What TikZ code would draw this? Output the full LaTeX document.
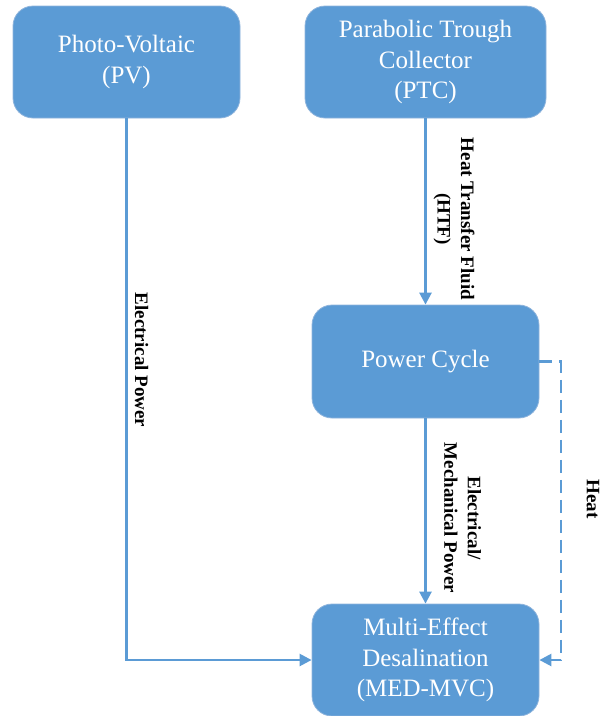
\documentclass[tikz,border=0pt]{standalone}
\usepackage{fontspec}
\setmainfont{Liberation Serif}
\usetikzlibrary{arrows.meta}
\definecolor{boxblue}{HTML}{5B9BD5}
\definecolor{boxedge}{HTML}{8FB4DC}
\begin{document}
\begin{tikzpicture}[x=1pt,y=-1pt,
  blk/.style={draw=boxedge, line width=0.8pt, fill=boxblue, rounded corners=20pt, text=white,
    align=center, inner sep=0pt, font=\fontsize{25}{30.5}\selectfont},
  conn/.style={draw=boxblue, line width=2.5pt, -{Triangle[length=12pt,width=12pt]}},
  lbl/.style={rotate=-90, align=center, font=\bfseries\fontsize{19}{23.5}\selectfont}]
\useasboundingbox (0,0) rectangle (601,716);
\clip (0,0) rectangle (601,716);
\node[blk, minimum width=227pt, minimum height=112pt] (pv) at (126.5,62) {Photo-Voltaic\\(PV)};
\node[blk, minimum width=241pt, minimum height=112pt] (ptc) at (425.5,62) {Parabolic Trough\\Collector\\(PTC)};
\node[blk, minimum width=227pt, minimum height=113pt] (pc) at (425.5,361.5) {Power Cycle};
\node[blk, minimum width=227pt, minimum height=112pt] (med) at (425.5,660) {Multi-Effect\\Desalination\\(MED-MVC)};
\coordinate (hc) at (561,361.5);
\draw[conn] (pv.south) |- (med.west);
\draw[conn] (ptc.south) -- (pc.north);
\draw[conn] (pc.south) -- (med.north);
\draw[conn, dash pattern=on 13pt off 7pt] (pc.east) -- (hc) |- (med.east);
\node[lbl] (l1) at (141.5,360) {Electrical Power};
\node[lbl] (l2) at (454,219) {Heat Transfer Fluid\\(HTF)};
\node[lbl] (l3) at (462.5,518) {Electrical/\\Mechanical Power};
\node[lbl] (l4) at (593,499) {Heat};
\end{tikzpicture}
\end{document}
